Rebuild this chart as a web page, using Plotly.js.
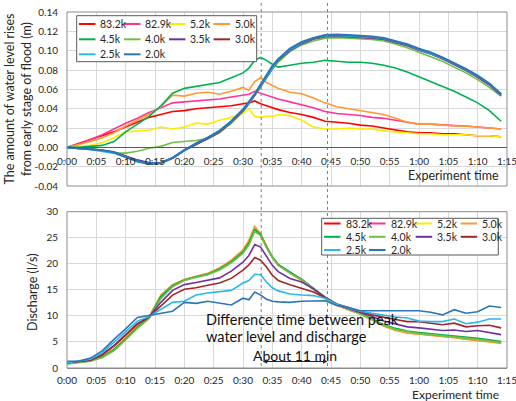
<!DOCTYPE html>
<html><head><meta charset="utf-8">
<script src="https://cdn.plot.ly/plotly-3.0.1.min.js"></script>
<style>html,body{margin:0;padding:0;background:#fff}#chart{width:516px;height:401px}</style>
</head><body><div id="chart"></div>
<script>
// ---------- DATA ----------
const times = [0,2,4,6,8,10,12,14,16,18,20,22,24,26,28,30,31,32,33,34,35,36,38,40,42,44,46,48,50,52,54,56,58,60,62,64,66,68,70,72,74];
const seriesNames = ['83.2k','82.9k','5.2k','5.0k','4.5k','4.0k','3.5k','3.0k','2.5k','2.0k'];
const seriesColors = ['#ff0000','#ff3399','#ffea00','#ff9933','#00b050','#70c045','#7030a0','#a3272a','#2ab7ea','#2e75b6'];

// water level rise (m)
const wl_83_2k = [0,0.004,0.008,0.012,0.016,0.021,0.026,0.031,0.034,0.037,0.038,0.040,0.041,0.042,0.043,0.045,0.046,0.048,0.045,0.043,0.041,0.039,0.036,0.034,0.031,0.027,0.026,0.025,0.023,0.022,0.020,0.018,0.016,0.015,0.015,0.014,0.014,0.013,0.012,0.012,0.011];
const wl_82_9k = [0,0.003,0.008,0.013,0.019,0.025,0.030,0.036,0.041,0.046,0.047,0.048,0.049,0.050,0.052,0.054,0.055,0.058,0.056,0.054,0.052,0.050,0.047,0.044,0.041,0.037,0.035,0.034,0.033,0.031,0.030,0.028,0.026,0.024,0.024,0.023,0.0225,0.022,0.021,0.020,0.019];
const wl_5_2k = [0,0.001,0.002,0.005,0.010,0.016,0.017,0.018,0.021,0.019,0.021,0.025,0.024,0.028,0.031,0.035,0.040,0.032,0.031,0.032,0.032,0.034,0.033,0.028,0.021,0.019,0.019,0.020,0.019,0.019,0.017,0.016,0.015,0.014,0.014,0.013,0.013,0.013,0.012,0.012,0.011];
const wl_5_0k = [0,0.003,0.006,0.010,0.015,0.022,0.028,0.034,0.042,0.054,0.053,0.056,0.057,0.055,0.058,0.062,0.059,0.068,0.072,0.067,0.064,0.061,0.057,0.0555,0.051,0.046,0.042,0.040,0.038,0.036,0.034,0.030,0.026,0.024,0.024,0.023,0.0225,0.022,0.021,0.020,0.019];
const wl_4_5k = [0,0.000,0.001,0.002,0.006,0.016,0.024,0.032,0.043,0.056,0.061,0.063,0.065,0.067,0.072,0.077,0.082,0.090,0.093,0.090,0.086,0.083,0.085,0.087,0.088,0.090,0.089,0.088,0.088,0.087,0.085,0.082,0.078,0.073,0.068,0.063,0.058,0.052,0.046,0.038,0.027];
const wl_4_0k = [0,0.000,-0.001,-0.003,-0.006,-0.006,-0.004,-0.001,0.001,0.005,0.006,0.007,0.009,0.015,0.025,0.037,0.045,0.053,0.062,0.072,0.081,0.088,0.099,0.106,0.110,0.113,0.1135,0.113,0.1125,0.1115,0.110,0.107,0.103,0.0985,0.094,0.089,0.083,0.077,0.070,0.062,0.053];
const wl_3_5k = [0,-0.001,-0.002,-0.003,-0.005,-0.009,-0.013,-0.016,-0.016,-0.011,-0.003,0.003,0.009,0.016,0.026,0.038,0.045,0.054,0.063,0.073,0.082,0.090,0.100,0.107,0.112,0.1145,0.115,0.1145,0.114,0.113,0.1115,0.1085,0.105,0.1005,0.0965,0.0915,0.0855,0.0795,0.0725,0.0645,0.0535];
const wl_3_0k = [0,-0.001,-0.002,-0.003,-0.005,-0.009,-0.014,-0.016,-0.016,-0.011,-0.003,0.003,0.009,0.016,0.026,0.038,0.046,0.054,0.064,0.074,0.083,0.090,0.101,0.108,0.112,0.115,0.1155,0.115,0.1145,0.1135,0.112,0.109,0.1055,0.101,0.097,0.092,0.086,0.080,0.073,0.065,0.054];
const wl_2_5k = [0,-0.001,-0.002,-0.004,-0.006,-0.010,-0.015,-0.017,-0.016,-0.011,-0.003,0.004,0.010,0.017,0.027,0.039,0.046,0.055,0.064,0.074,0.083,0.091,0.101,0.108,0.113,0.1155,0.116,0.1155,0.115,0.114,0.1125,0.1095,0.106,0.1015,0.097,0.0925,0.0865,0.0805,0.0735,0.0655,0.0545];
const wl_2_0k = [0,-0.001,-0.002,-0.003,-0.005,-0.010,-0.014,-0.017,-0.016,-0.011,-0.003,0.004,0.010,0.017,0.027,0.039,0.047,0.055,0.065,0.075,0.084,0.091,0.102,0.109,0.113,0.116,0.1165,0.116,0.1155,0.1145,0.113,0.110,0.1065,0.102,0.098,0.093,0.087,0.081,0.074,0.066,0.055];

// discharge (l/s)
const q_83_2k = [0.9,1.1,1.4,2.1,3.5,5.7,7.9,9.7,13.8,15.9,16.9,17.5,18.0,19.0,20.5,22.4,24.2,26.8,25.6,23.3,21.3,19.8,18.3,17.0,15.3,13.4,12.1,11.2,10.4,9.3,8.2,7.4,6.9,6.6,6.4,6.2,6.0,5.7,5.5,5.2,4.8];
const q_82_9k = [0.9,1.1,1.4,2.1,3.6,5.7,7.9,9.7,13.8,15.9,16.9,17.5,18.1,19.1,20.5,22.5,24.3,26.9,25.7,23.3,21.3,19.8,18.3,17.0,15.2,13.4,12.1,11.2,10.4,9.3,8.2,7.4,6.9,6.6,6.4,6.2,6.0,5.7,5.5,5.2,4.9];
const q_5_2k = [0.9,1.1,1.4,2.1,3.6,5.7,7.9,9.7,13.9,15.9,16.9,17.5,18.1,19.1,20.6,22.6,24.4,27.0,25.7,23.3,21.3,19.8,18.2,16.9,15.2,13.4,12.1,11.2,10.4,9.3,8.1,7.3,6.8,6.6,6.4,6.1,5.9,5.6,5.4,5.1,4.8];
const q_5_0k = [0.9,1.1,1.4,2.1,3.6,5.8,8.0,9.8,14.0,16.0,17.0,17.6,18.2,19.2,20.7,22.7,24.5,27.2,25.8,23.4,21.3,19.8,18.2,16.8,15.1,13.3,12.0,11.1,10.3,9.2,8.0,7.2,6.7,6.5,6.3,6.0,5.8,5.5,5.3,5.0,4.7];
const q_4_5k = [0.8,1.1,1.4,2.1,3.5,5.6,7.8,9.6,13.7,15.8,16.9,17.5,18.0,19.0,20.4,22.3,24.0,26.6,25.6,23.3,21.3,19.9,18.4,17.0,15.3,13.6,12.2,11.3,10.5,9.4,8.3,7.6,7.1,6.8,6.6,6.4,6.2,5.9,5.7,5.4,5.1];
const q_4_0k = [0.8,1.0,1.3,2.0,3.3,5.4,7.6,9.5,13.3,15.6,16.8,17.4,17.9,18.8,20.2,22.0,23.6,26.2,25.4,23.1,21.2,19.7,18.2,16.9,15.2,13.4,12.1,11.2,10.4,9.3,8.2,7.4,7.0,6.6,6.4,6.2,6.0,5.7,5.5,5.2,4.9];
const q_3_5k = [1.0,1.2,1.5,2.6,4.3,6.4,8.5,9.8,12.6,14.9,16.0,16.4,16.9,17.3,18.6,20.3,21.6,23.7,23.2,21.4,19.7,18.5,17.2,16.5,15.2,13.6,12.2,11.4,10.7,9.9,9.0,8.4,7.9,7.7,7.4,7.2,7.3,7.0,7.2,6.8,6.4];
const q_3_0k = [1.0,1.2,1.5,2.5,4.2,6.3,8.4,9.8,12.0,14.0,15.1,15.4,15.9,16.3,17.2,18.8,19.8,21.2,20.7,19.4,17.8,16.8,16.0,15.3,14.6,13.5,12.3,11.6,10.8,10.2,9.7,9.3,8.9,8.9,8.6,8.3,8.6,7.9,8.1,8.2,7.7];
const q_2_5k = [1.0,1.3,1.7,2.9,4.9,7.0,9.0,9.9,11.3,12.6,12.8,14.0,14.4,14.6,14.9,16.3,16.8,18.0,17.9,16.5,15.4,14.8,14.2,14.0,13.9,13.4,12.2,11.5,10.9,10.5,10.1,9.8,9.6,9.0,8.9,8.9,9.4,8.5,8.8,9.4,9.4];
const q_2_0k = [1.3,1.3,1.9,3.3,5.5,7.5,9.7,10.1,10.6,10.9,12.6,12.4,12.8,12.5,12.1,13.4,13.1,14.6,14.0,13.2,12.8,12.7,12.6,12.8,12.9,12.9,12.0,11.6,11.0,11.0,10.9,10.9,10.9,11.0,10.7,10.2,11.2,10.5,10.8,11.9,11.6];

const waterLevelSeries = [wl_83_2k,wl_82_9k,wl_5_2k,wl_5_0k,wl_4_5k,wl_4_0k,wl_3_5k,wl_3_0k,wl_2_5k,wl_2_0k];
const dischargeSeries = [q_83_2k,q_82_9k,q_5_2k,q_5_0k,q_4_5k,q_4_0k,q_3_5k,q_3_0k,q_2_5k,q_2_0k];

const xTickVals = [0,5,10,15,20,25,30,35,40,45,50,55,60,65,70,75];
const xTickText = ['0:00','0:05','0:10','0:15','0:20','0:25','0:30','0:35','0:40','0:45','0:50','0:55','1:00','1:05','1:10','1:15'];
const wlTickVals = [-0.04,-0.02,0,0.02,0.04,0.06,0.08,0.10,0.12,0.14];
const wlTickText = ['-0.04','-0.02','0.00','0.02','0.04','0.06','0.08','0.10','0.12','0.14'];
const qTickVals = [0,5,10,15,20,25,30];
const peakTimes = [33.1, 44.4];   // peak of discharge, peak of water level (min)

// ---------- LAYOUT HELPERS ----------
const W = 516, H = 401, M = {l:67, r:9, t:12, b:33};
const PW = W - M.l - M.r, PH = H - M.t - M.b;
const px = x => (x - M.l) / PW;
const py = y => (H - M.b - y) / PH;
const FONT = 'Lato, "Open Sans", sans-serif';
const TXT = '#262626';
const GRID = '#d9d9d9';

const topDom = [py(186), 1];
const botDom = [0, py(211.7)];
const zeroPos = topDom[0] + (0 - (-0.04)) / 0.18 * (topDom[1] - topDom[0]);

const traces = [];
seriesNames.forEach((n, i) => {
  const w = (i === 9) ? 2.2 : (i === 8 ? 2 : 1.6);
  traces.push({x: times, y: waterLevelSeries[i], name: n, type: 'scatter', mode: 'lines',
    line: {color: seriesColors[i], width: w}, xaxis: 'x', yaxis: 'y', showlegend: false, hoverinfo: 'skip'});
});
seriesNames.forEach((n, i) => {
  traces.push({x: times, y: dischargeSeries[i], name: n, type: 'scatter', mode: 'lines',
    line: {color: seriesColors[i], width: 1.6}, xaxis: 'x2', yaxis: 'y2', showlegend: false, hoverinfo: 'skip'});
});

const shapes = [];
const annotations = [];

// plot borders
shapes.push({type:'rect', xref:'x domain', yref:'y domain', x0:0, x1:1, y0:0, y1:1, line:{color:'#8c8c8c', width:1}, layer:'above'});
shapes.push({type:'rect', xref:'x2 domain', yref:'y2 domain', x0:0, x1:1, y0:0, y1:1, line:{color:'#8c8c8c', width:1}, layer:'above'});

// dotted reference lines across both charts
peakTimes.forEach(t => {
  shapes.push({type:'line', xref:'x2', yref:'paper', x0:t, x1:t, y0:py(366), y1:py(1),
    line:{color:'#7f7f7f', width:1, dash:'dot'}, layer:'above'});
});

// custom legends
function addLegend(box, colX, rowY, lineLen, gap) {
  shapes.push({type:'rect', xref:'paper', yref:'paper', x0:px(box[0]), x1:px(box[2]), y0:py(box[3]), y1:py(box[1]),
    fillcolor:'#ffffff', line:{color:'#595959', width:1}, layer:'above'});
  seriesNames.forEach((n, i) => {
    const c = i % 4, r = Math.floor(i / 4);
    shapes.push({type:'line', xref:'paper', yref:'paper', x0:px(colX[c]), x1:px(colX[c] + lineLen),
      y0:py(rowY[r]), y1:py(rowY[r]), line:{color:seriesColors[i], width:2}, layer:'above'});
    annotations.push({xref:'paper', yref:'paper', x:px(colX[c] + lineLen + gap), y:py(rowY[r]),
      xanchor:'left', yanchor:'middle', text:n, showarrow:false, font:{family:FONT, size:10.5, color:TXT}});
  });
}
addLegend([76.7,15.7,256.7,61.7], [79,124,169,213.5], [24,39.3,54.3], 16.5, 2.5);
addLegend([321.7,218.3,498.3,255], [324,369,415.7,460.7], [223.5,236.8,250], 16.5, 3);

// x axis titles (right aligned, like the original)
annotations.push({xref:'paper', yref:'paper', x:px(501), y:py(175.5), xanchor:'right', yanchor:'middle',
  text:'Experiment time', showarrow:false, font:{family:FONT, size:12.5, color:TXT}});
annotations.push({xref:'paper', yref:'paper', x:px(501), y:py(395), xanchor:'right', yanchor:'middle',
  text:'Experiment time', showarrow:false, font:{family:FONT, size:12, color:TXT}});

// y axis title of the discharge chart
annotations.push({xref:'paper', yref:'paper', x:px(32), y:py(292), xanchor:'center', yanchor:'middle', textangle:-90,
  text:'Discharge (l/s)', showarrow:false, font:{family:FONT, size:12.5, color:TXT}});

// explanatory annotation
annotations.push({xref:'paper', yref:'paper', x:px(204), y:py(319), xanchor:'left', yanchor:'middle', align:'left',
  text:'Difference time between peak', showarrow:false, font:{family:FONT, size:14.5, color:'#111'}});
annotations.push({xref:'paper', yref:'paper', x:px(204), y:py(336), xanchor:'left', yanchor:'middle', align:'left',
  text:'water level and discharge', showarrow:false, font:{family:FONT, size:14.5, color:'#111'}});
annotations.push({xref:'paper', yref:'paper', x:px(294.5), y:py(355.3), xanchor:'center', yanchor:'middle',
  text:'About 11 min', showarrow:false, font:{family:FONT, size:14, color:'#111'}});
annotations.push({xref:'x2', yref:'paper', x:peakTimes[1], y:py(361.5), axref:'x2', ayref:'pixel', ax:peakTimes[0], ay:0,
  text:'', showarrow:true, arrowhead:2, arrowside:'end+start', arrowsize:0.9, arrowwidth:1, arrowcolor:'#262626',
  standoff:0, startstandoff:0});

const axisCommon = {range:[0,75], tickvals:xTickVals, ticktext:xTickText, showgrid:true, gridcolor:GRID, gridwidth:1,
  zeroline:false, ticks:'', tickfont:{family:FONT, size:10, color:TXT}, automargin:false, fixedrange:true,
  ticklabeloverflow:'allow'};

const layout = {
  width: W, height: H,
  margin: M,
  paper_bgcolor:'#ffffff', plot_bgcolor:'#ffffff',
  showlegend:false,
  font:{family:FONT, color:TXT},
  xaxis: Object.assign({}, axisCommon, {domain:[0,1], anchor:'free', position:zeroPos, showline:true, linecolor:'#595959', linewidth:1, ticklabelstandoff:5}),
  yaxis: {domain:topDom, anchor:'x', range:[-0.04,0.14], tickvals:wlTickVals, ticktext:wlTickText, showgrid:true, gridcolor:GRID,
    zeroline:false, showline:false, ticks:'', tickfont:{family:FONT, size:10, color:TXT}, automargin:false, fixedrange:true,
    ticklabelstandoff:8,
    title:{text:'The amount of water level rises<br>from early stage of flood (m)', font:{family:FONT, size:12.5, color:TXT}, standoff:0}},
  xaxis2: Object.assign({}, axisCommon, {domain:[0,1], anchor:'y2', showline:true, linecolor:'#8c8c8c', linewidth:1, ticklabelstandoff:3}),
  yaxis2: {domain:botDom, anchor:'x2', range:[0,30], tickvals:qTickVals, showgrid:true, gridcolor:GRID,
    zeroline:false, showline:false, ticks:'', tickfont:{family:FONT, size:10, color:TXT}, automargin:false, fixedrange:true,
    ticklabelstandoff:8},
  shapes: shapes,
  annotations: annotations
};

Plotly.newPlot('chart', traces, layout, {displayModeBar:false, staticPlot:true});
</script>
</body></html>
